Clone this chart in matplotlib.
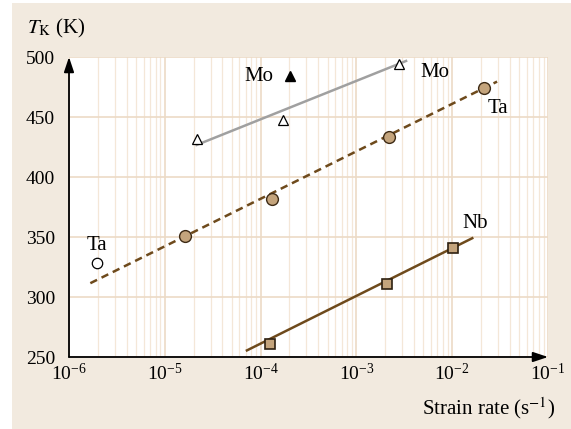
import numpy as np
import matplotlib
matplotlib.use("Agg")
import matplotlib.pyplot as plt
from matplotlib.patches import Rectangle

plt.rcParams['font.family'] = ['Liberation Serif', 'DejaVu Serif']
plt.rcParams['mathtext.fontset'] = 'stix'

# Mo (open triangles) + fit line
mo_rate = [2.15e-5, 1.73e-4, 2.8e-3]
mo_T = [432, 447.5, 494.5]
mo_fit_rate = [2.15e-5, 3.3e-3]
mo_fit_T = [426.7, 496.7]
mo_solid_rate = [2.03e-4]
mo_solid_T = [484]

# Ta (filled circles) + dashed fit
ta_rate = [1.63e-5, 1.3e-4, 2.17e-3, 2.16e-2]
ta_T = [350.5, 382, 433, 474.5]
ta_open_rate = [1.97e-6]
ta_open_T = [328]
ta_fit_rate = [1.67e-6, 2.94e-2]
ta_fit_T = [311.5, 479.5]

# Nb (squares) + fit
nb_rate = [1.25e-4, 2.09e-3, 1.03e-2]
nb_T = [261, 311, 341]
nb_fit_rate = [7.2e-5, 1.62e-2]
nb_fit_T = [255.5, 349]

bg = '#f2eadf'
grid_major = '#ecdac6'
grid_minor = '#f4e7d8'
brown = '#6e4a1c'

fig = plt.figure(figsize=(5.71, 4.29), dpi=100)
fig.patch.set_facecolor('white')
fig.patches.append(Rectangle((12/571, -0.01), 1, 1.01 - 3/429, transform=fig.transFigure,
                             facecolor=bg, edgecolor='none', zorder=-10))

ax = fig.add_axes([69/571, 1 - 357/429, 479/571, 300/429])
ax.set_facecolor('white')
ax.set_xscale('log')
ax.set_xlim(1e-6, 1e-1)
ax.set_ylim(250, 500)
ax.set_yticks([250, 300, 350, 400, 450, 500])
ax.set_xticks([1e-6, 1e-5, 1e-4, 1e-3, 1e-2, 1e-1])
ax.grid(True, which='major', color=grid_major, lw=1.2)
ax.grid(True, which='minor', axis='x', color=grid_minor, lw=0.9)
ax.set_axisbelow(True)
for s in ax.spines.values():
    s.set_visible(False)
ax.tick_params(which='both', length=0, labelsize=14)
ax.tick_params(axis='y', pad=10)
ax.tick_params(axis='x', pad=4)

# axis arrows
ax.annotate('', xy=(1, 0), xytext=(0, 0), xycoords='axes fraction',
            arrowprops=dict(arrowstyle='-|>,head_length=0.9,head_width=0.3', color='black', lw=1.3,
                            shrinkA=0, shrinkB=0))
ax.annotate('', xy=(0, 1), xytext=(0, 0), xycoords='axes fraction',
            arrowprops=dict(arrowstyle='-|>,head_length=0.9,head_width=0.3', color='black', lw=1.3,
                            shrinkA=0, shrinkB=0))

# fits
ax.plot(mo_fit_rate, mo_fit_T, color='#a0a0a0', lw=1.8, zorder=3)
ax.plot(ta_fit_rate, ta_fit_T, color=brown, lw=1.8, ls=(0, (3, 2)), zorder=3)
ax.plot(nb_fit_rate, nb_fit_T, color=brown, lw=1.8, zorder=3)

# points
ax.plot(mo_rate, mo_T, ls='none', marker='^', ms=7, mfc='white', mec='black', mew=0.9, zorder=4)
ax.plot(mo_solid_rate, mo_solid_T, ls='none', marker='^', ms=7, mfc='black', mec='black', zorder=4)
ax.plot(ta_rate, ta_T, ls='none', marker='o', ms=8.5, mfc='#c4a47c', mec='#3d2a15', mew=1.0, zorder=4)
ax.plot(ta_open_rate, ta_open_T, ls='none', marker='o', ms=7.5, mfc='white', mec='black', mew=0.9, zorder=4)
ax.plot(nb_rate, nb_T, ls='none', marker='s', ms=7.5, mfc='#c4a47c', mec='#2e2010', mew=1.2, zorder=4)

# labels
ax.text(1.35e-4, 484, 'Mo', fontsize=15, ha='right', va='center')
ax.text(4.6e-3, 487, 'Mo', fontsize=15, ha='left', va='center')
ax.text(2.35e-2, 457, 'Ta', fontsize=15, ha='left', va='center')
ax.text(1.97e-6, 343, 'Ta', fontsize=15, ha='center', va='center')
ax.text(1.75e-2, 361, 'Nb', fontsize=15, ha='center', va='center')

fig.text(27/571, 1 - 28/429, r'$T_{\mathrm{K}}$ (K)', fontsize=15, ha='left', va='center')
fig.text(555/571, 1 - 408/429, r'Strain rate (s$^{-1}$)', fontsize=15, ha='right', va='center')

fig.savefig('out.png', dpi=100, facecolor=fig.get_facecolor())
